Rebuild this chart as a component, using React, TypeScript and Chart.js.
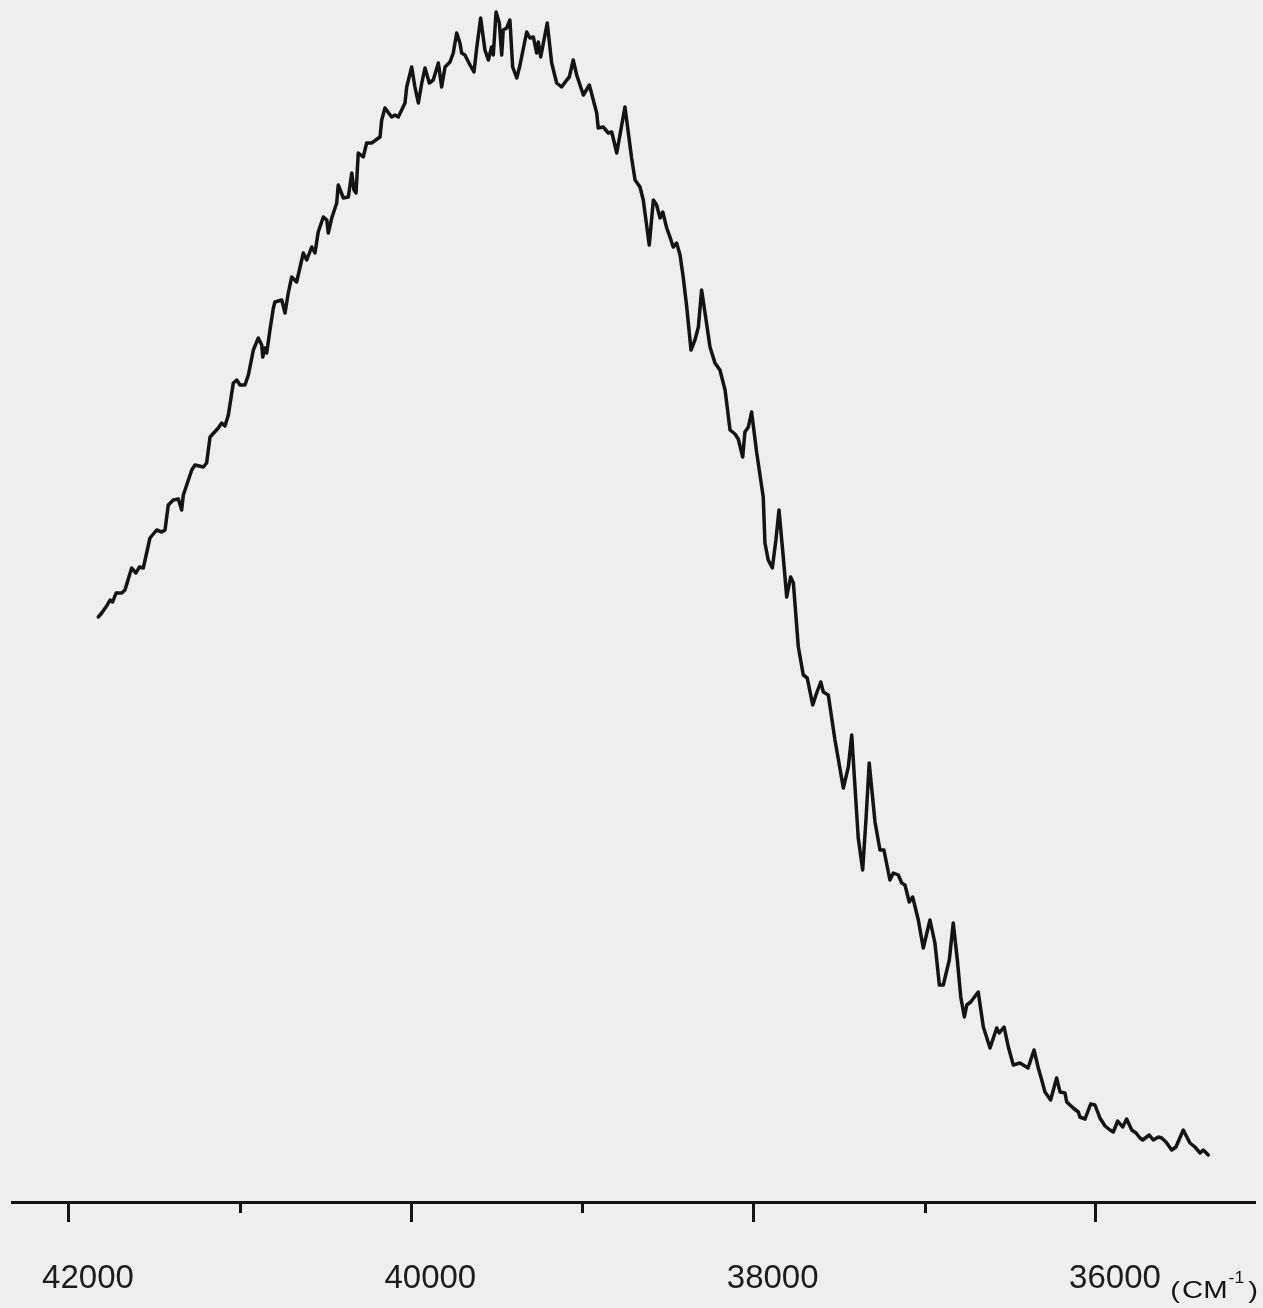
import { useEffect, useRef } from "react";
import { Chart, registerables } from "chart.js";

Chart.register(...registerables);

// Wavenumber (cm-1) of each recorded point
const WAVENUMBERS = [
  41829, 41809, 41780, 41760, 41745, 41725, 41692, 41673, 41634, 41609,
  41589, 41566, 41527, 41488, 41458, 41439, 41420, 41391, 41361, 41342,
  41332, 41283, 41264, 41215, 41196, 41176, 41128, 41108, 41089, 41069,
  41040, 41020, 41001, 40972, 40952, 40923, 40894, 40874, 40868, 40855,
  40845, 40826, 40806, 40797, 40757, 40738, 40719, 40699, 40670, 40631,
  40611, 40582, 40563, 40544, 40514, 40494, 40485, 40465, 40436, 40427,
  40397, 40368, 40348, 40335, 40323, 40310, 40281, 40261, 40232, 40183,
  40173, 40154, 40115, 40095, 40076, 40037, 40027, 39998, 39979, 39959,
  39939, 39920, 39895, 39872, 39842, 39823, 39803, 39774, 39755, 39735,
  39716, 39706, 39687, 39657, 39634, 39618, 39595, 39570, 39550, 39531,
  39521, 39505, 39486, 39472, 39463, 39443, 39424, 39408, 39384, 39365,
  39326, 39307, 39287, 39268, 39258, 39244, 39206, 39180, 39151, 39122,
  39092, 39077, 39054, 39034, 38995, 38960, 38917, 38908, 38879, 38849,
  38829, 38800, 38752, 38742, 38713, 38693, 38664, 38645, 38610, 38586,
  38567, 38547, 38531, 38508, 38489, 38470, 38450, 38430, 38411, 38391,
  38366, 38343, 38323, 38304, 38284, 38255, 38226, 38197, 38167, 38138,
  38109, 38090, 38064, 38051, 38031, 38012, 37982, 37944, 37934, 37915,
  37891, 37870, 37852, 37827, 37807, 37784, 37768, 37739, 37710, 37687,
  37655, 37632, 37608, 37593, 37564, 37525, 37476, 37447, 37427, 37408,
  37389, 37363, 37344, 37325, 37291, 37262, 37239, 37204, 37184, 37155,
  37135, 37116, 37091, 37071, 37038, 37009, 36970, 36941, 36915, 36892,
  36857, 36834, 36810, 36790, 36769, 36755, 36732, 36688, 36658, 36619,
  36580, 36565, 36537, 36512, 36483, 36444, 36397, 36362, 36337, 36317,
  36298, 36265, 36230, 36210, 36181, 36171, 36133, 36103, 36094, 36064,
  36031, 36006, 35977, 35947, 35918, 35899, 35873, 35844, 35821, 35791,
  35766, 35743, 35727, 35689, 35665, 35636, 35616, 35591, 35558, 35533,
  35490, 35451, 35422, 35392, 35373, 35344,
];

// Recorded signal (arbitrary units)
const INTENSITY = [
  58.5, 58.9, 59.6, 60.2, 60.0, 60.9, 60.9, 61.2, 63.4, 62.9,
  63.5, 63.4, 66.4, 67.2, 67.0, 67.2, 69.7, 70.2, 70.3, 69.2,
  70.7, 73.2, 73.7, 73.5, 73.9, 76.5, 77.4, 77.9, 77.6, 78.7,
  81.9, 82.2, 81.7, 81.7, 82.7, 85.2, 86.4, 85.7, 84.5, 85.4,
  84.9, 87.2, 89.4, 90.0, 90.2, 88.9, 90.9, 92.5, 92.0, 94.9,
  94.2, 95.5, 94.9, 97.0, 98.5, 98.2, 96.9, 98.4, 99.9, 101.7,
  100.4, 100.5, 102.9, 101.2, 100.9, 104.9, 104.5, 105.9, 105.9, 106.5,
  108.2, 109.4, 108.5, 108.7, 108.5, 109.9, 111.5, 113.5, 111.5, 109.9,
  111.9, 113.4, 111.9, 112.2, 113.9, 111.5, 113.5, 114.0, 114.9, 116.9,
  115.9, 114.9, 114.7, 113.7, 113.0, 115.4, 118.4, 115.2, 114.2, 115.5,
  114.7, 119.0, 117.9, 114.7, 117.2, 117.4, 118.2, 113.5, 112.4, 113.7,
  117.0, 116.4, 116.5, 114.9, 116.0, 114.5, 117.9, 113.9, 111.9, 111.5,
  112.2, 112.5, 114.2, 112.7, 110.7, 111.7, 108.9, 107.4, 107.5, 106.9,
  107.0, 104.9, 109.5, 108.2, 104.4, 102.2, 101.5, 100.2, 95.7, 100.2,
  99.7, 98.4, 99.0, 97.4, 96.5, 95.5, 95.9, 94.7, 92.4, 89.5,
  85.2, 86.2, 87.5, 91.2, 88.9, 85.5, 83.9, 83.2, 81.2, 77.2,
  76.8, 76.3, 74.5, 77.0, 77.5, 79.0, 74.9, 70.5, 65.9, 64.2,
  63.4, 66.2, 69.2, 64.5, 60.5, 62.5, 61.9, 55.5, 52.7, 52.4,
  49.7, 50.9, 52.0, 51.0, 50.7, 46.2, 41.4, 43.5, 46.7, 41.5,
  36.4, 33.2, 38.2, 43.9, 38.0, 35.2, 35.2, 32.2, 32.9, 32.7,
  31.9, 31.7, 30.0, 30.5, 28.2, 25.4, 28.2, 25.9, 21.7, 21.7,
  24.2, 27.9, 24.2, 20.5, 18.5, 19.7, 20.0, 21.0, 17.5, 15.4,
  17.4, 16.9, 17.5, 15.5, 13.7, 13.9, 13.4, 15.2, 13.4, 12.2,
  11.0, 10.2, 12.4, 11.0, 10.9, 10.0, 9.4, 9.0, 8.5, 8.3,
  9.8, 9.7, 8.4, 7.6, 7.2, 7.0, 8.1, 7.5, 8.3, 7.2,
  6.9, 6.4, 6.2, 6.7, 6.2, 6.5, 6.4, 6.0, 5.2, 5.5,
  7.2, 5.9, 5.5, 4.9, 5.2, 4.7,
];

const TICK_VALUES = [42000, 41000, 40000, 39000, 38000, 37000, 36000];
const TICK_LABELS = ["42000", "", "40000", "", "38000", "", "36000"];
const UNIT_OPEN = "(";
const UNIT_TEXT = "CM";
const UNIT_SUP = "-1";
const UNIT_CLOSE = ")";

const X_MIN = 35071;
const X_MAX = 42333;
const Y_MIN = 0;
const Y_MAX = 120;

const PAPER = "#eeeeee";
const INK = "#141414";
const FONT = "'Liberation Sans', Arial, sans-serif";

function labelFor(v: number): string {
  const i = TICK_VALUES.indexOf(v);
  return i >= 0 ? TICK_LABELS[i] : "";
}

const paperPlugin = {
  id: "paper",
  beforeDraw(chart: any) {
    const { ctx, width, height } = chart;
    ctx.save();
    ctx.fillStyle = PAPER;
    ctx.fillRect(0, 0, width, height);
    ctx.restore();
  },
};

function stretchedWidth(ctx: CanvasRenderingContext2D, text: string, font: string, sx: number) {
  ctx.font = font;
  return ctx.measureText(text).width * sx;
}

function drawStretched(
  ctx: CanvasRenderingContext2D,
  text: string,
  x: number,
  y: number,
  font: string,
  sx: number
) {
  ctx.save();
  ctx.font = font;
  ctx.translate(x, y);
  ctx.scale(sx, 1);
  ctx.fillText(text, 0, 0);
  ctx.restore();
}

const axisExtrasPlugin = {
  id: "axisExtras",
  afterDraw(chart: any) {
    const { ctx, chartArea } = chart;
    const xs = chart.scales.x;
    ctx.save();
    // short minor ticks
    ctx.strokeStyle = INK;
    ctx.lineWidth = 3;
    TICK_VALUES.forEach((v, i) => {
      if (TICK_LABELS[i]) return;
      const px = Math.round(xs.getPixelForValue(v)) + 0.5;
      ctx.beginPath();
      ctx.moveTo(px, chartArea.bottom);
      ctx.lineTo(px, chartArea.bottom + 11);
      ctx.stroke();
    });
    // unit label "(CM-1)"
    ctx.fillStyle = INK;
    ctx.textBaseline = "alphabetic";
    ctx.textAlign = "left";
    const mainFont = `24px ${FONT}`;
    const supFont = `16px ${FONT}`;
    const sx = 1.22;
    const wOpen = stretchedWidth(ctx, UNIT_OPEN, mainFont, sx);
    const wMain = stretchedWidth(ctx, UNIT_TEXT, mainFont, sx);
    const wSup = stretchedWidth(ctx, UNIT_SUP, supFont, 1.1);
    const wClose = stretchedWidth(ctx, UNIT_CLOSE, mainFont, sx);
    const gapOpen = 2;
    const gapSup = 1;
    const gapClose = 4;
    const total = wOpen + gapOpen + wMain + gapSup + wSup + gapClose + wClose;
    let x = xs.right + 3 - total;
    const base = 1298;
    drawStretched(ctx, UNIT_OPEN, x, base, mainFont, sx);
    x += wOpen + gapOpen;
    drawStretched(ctx, UNIT_TEXT, x, base, mainFont, sx);
    x += wMain + gapSup;
    drawStretched(ctx, UNIT_SUP, x, base - 15, supFont, 1.1);
    x += wSup + gapClose;
    drawStretched(ctx, UNIT_CLOSE, x, base, mainFont, sx);
    ctx.restore();
  },
};

export default function App() {
  const canvasRef = useRef<HTMLCanvasElement | null>(null);

  useEffect(() => {
    const canvas = canvasRef.current;
    if (!canvas) return;
    const points = WAVENUMBERS.map((w, i) => ({ x: w, y: INTENSITY[i] }));
    const chart = new Chart(canvas, {
      type: "line",
      data: {
        datasets: [
          {
            data: points,
            borderColor: INK,
            borderWidth: 3.5,
            pointRadius: 0,
            tension: 0,
            fill: false,
            borderJoinStyle: "round",
            borderCapStyle: "round",
          } as any,
        ],
      },
      options: {
        responsive: false,
        animation: false,
        devicePixelRatio: 1,
        layout: { padding: { top: 2, left: 12, right: 8, bottom: 0 } },
        plugins: {
          legend: { display: false },
          tooltip: { enabled: false },
        },
        scales: {
          x: {
            type: "linear",
            reverse: true,
            min: X_MIN,
            max: X_MAX,
            afterBuildTicks: (s: any) => {
              s.ticks = TICK_VALUES.map((v) => ({ value: v }));
            },
            afterFit: (s: any) => {
              s.height = 106;
              s.paddingLeft = 0;
              s.paddingRight = 0;
            },
            border: { display: true, color: INK, width: 3 },
            grid: {
              display: true,
              drawOnChartArea: false,
              drawTicks: true,
              tickLength: 20,
              tickWidth: 3,
              tickColor: (ctx: any) =>
                ctx.tick && labelFor(ctx.tick.value) ? INK : "rgba(0,0,0,0)",
            },
            ticks: {
              autoSkip: false,
              maxRotation: 0,
              minRotation: 0,
              padding: 37,
              labelOffset: 19,
              color: "#1c1c1c",
              font: { family: FONT, size: 33 },
              callback: (v: any) => labelFor(Number(v)),
            },
          },
          y: { display: false, min: Y_MIN, max: Y_MAX },
        },
      },
      plugins: [paperPlugin, axisExtrasPlugin],
    } as any);
    return () => chart.destroy();
  }, []);

  return (
    <div
      style={{
        position: "fixed",
        left: 0,
        top: 0,
        width: 1263,
        height: 1308,
        background: PAPER,
        overflow: "hidden",
      }}
    >
      <canvas
        ref={canvasRef}
        width={1263}
        height={1308}
        style={{ display: "block", width: 1263, height: 1308 }}
      />
    </div>
  );
}
